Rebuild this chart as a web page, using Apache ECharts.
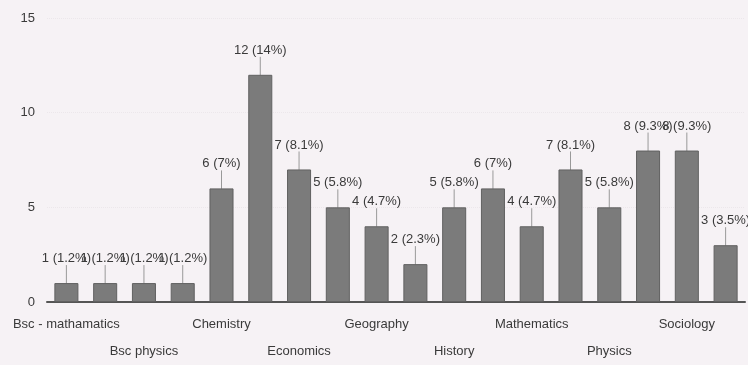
<!DOCTYPE html>
<html>
<head>
<meta charset="utf-8">
<script src="https://cdn.jsdelivr.net/npm/echarts@6/dist/echarts.min.js"></script>
<style>
  html, body { margin: 0; padding: 0; background: #f6f2f5; }
  #chart { width: 748px; height: 365px; }
</style>
</head>
<body>
<div id="chart"></div>
<script>
// only every second category name is printed in the reference; the others are guesses
let categories = ['Bsc - mathamatics', 'Bsc chemistry', 'Bsc physics', 'Bsc zoology', 'Chemistry', 'Commerce',
  'Economics', 'English', 'Geography', 'Hindi', 'History', 'Malayalam', 'Mathematics', 'Philosophy',
  'Physics', 'Political science', 'Sociology', 'Statistics']
let counts = [1, 1, 1, 1, 6, 12, 7, 5, 4, 2, 5, 6, 4, 7, 5, 8, 8, 3]
let yTicks = [0, 5, 10, 15]

let total = counts.reduce((a, b) => a + b, 0)
let font = '"Liberation Sans Narrow", "Liberation Sans", Arial, sans-serif'
let txt = '#3a3a3a'

let chart = echarts.init(document.getElementById('chart'))
chart.setOption({
  backgroundColor: '#f6f2f5',
  animation: false,
  grid: { left: 47, right: 3, top: 18, bottom: 63 },
  xAxis: [
    {
      type: 'category',
      data: categories,
      axisTick: { show: false },
      axisLine: { lineStyle: { color: '#555', width: 2 } },
      axisLabel: {
        interval: i => i % 4 === 0,
        showMinLabel: true,
        color: txt, fontFamily: font, fontSize: 13, margin: 16
      }
    },
    {
      // second row of labels
      type: 'category',
      data: categories,
      position: 'bottom',
      offset: 27,
      axisTick: { show: false },
      axisLine: { show: false },
      axisLabel: {
        interval: i => i % 4 === 2,
        color: txt, fontFamily: font, fontSize: 13, margin: 16
      }
    }
  ],
  yAxis: {
    type: 'value',
    min: yTicks[0],
    max: yTicks[yTicks.length - 1],
    interval: 5,
    axisLine: { show: false },
    axisTick: { show: false },
    axisLabel: { color: txt, fontFamily: font, fontSize: 13, margin: 12 },
    splitLine: { lineStyle: { color: '#ece7eb', type: 'dotted' } }
  },
  series: [{
    type: 'bar',
    data: counts,
    barWidth: '62%',
    itemStyle: { color: '#7b7b7b', borderColor: '#616161', borderWidth: 1 },
    label: {
      show: true,
      position: 'top',
      distance: 2,
      color: txt,
      fontFamily: font,
      fontSize: 13,
      formatter: p => p.value + ' (' + parseFloat((p.value / total * 100).toFixed(1)) + '%)'
    },
    labelLayout: { dy: -16 },
    labelLine: { show: true, lineStyle: { color: '#999', width: 1 } }
  }]
})
</script>
</body>
</html>
